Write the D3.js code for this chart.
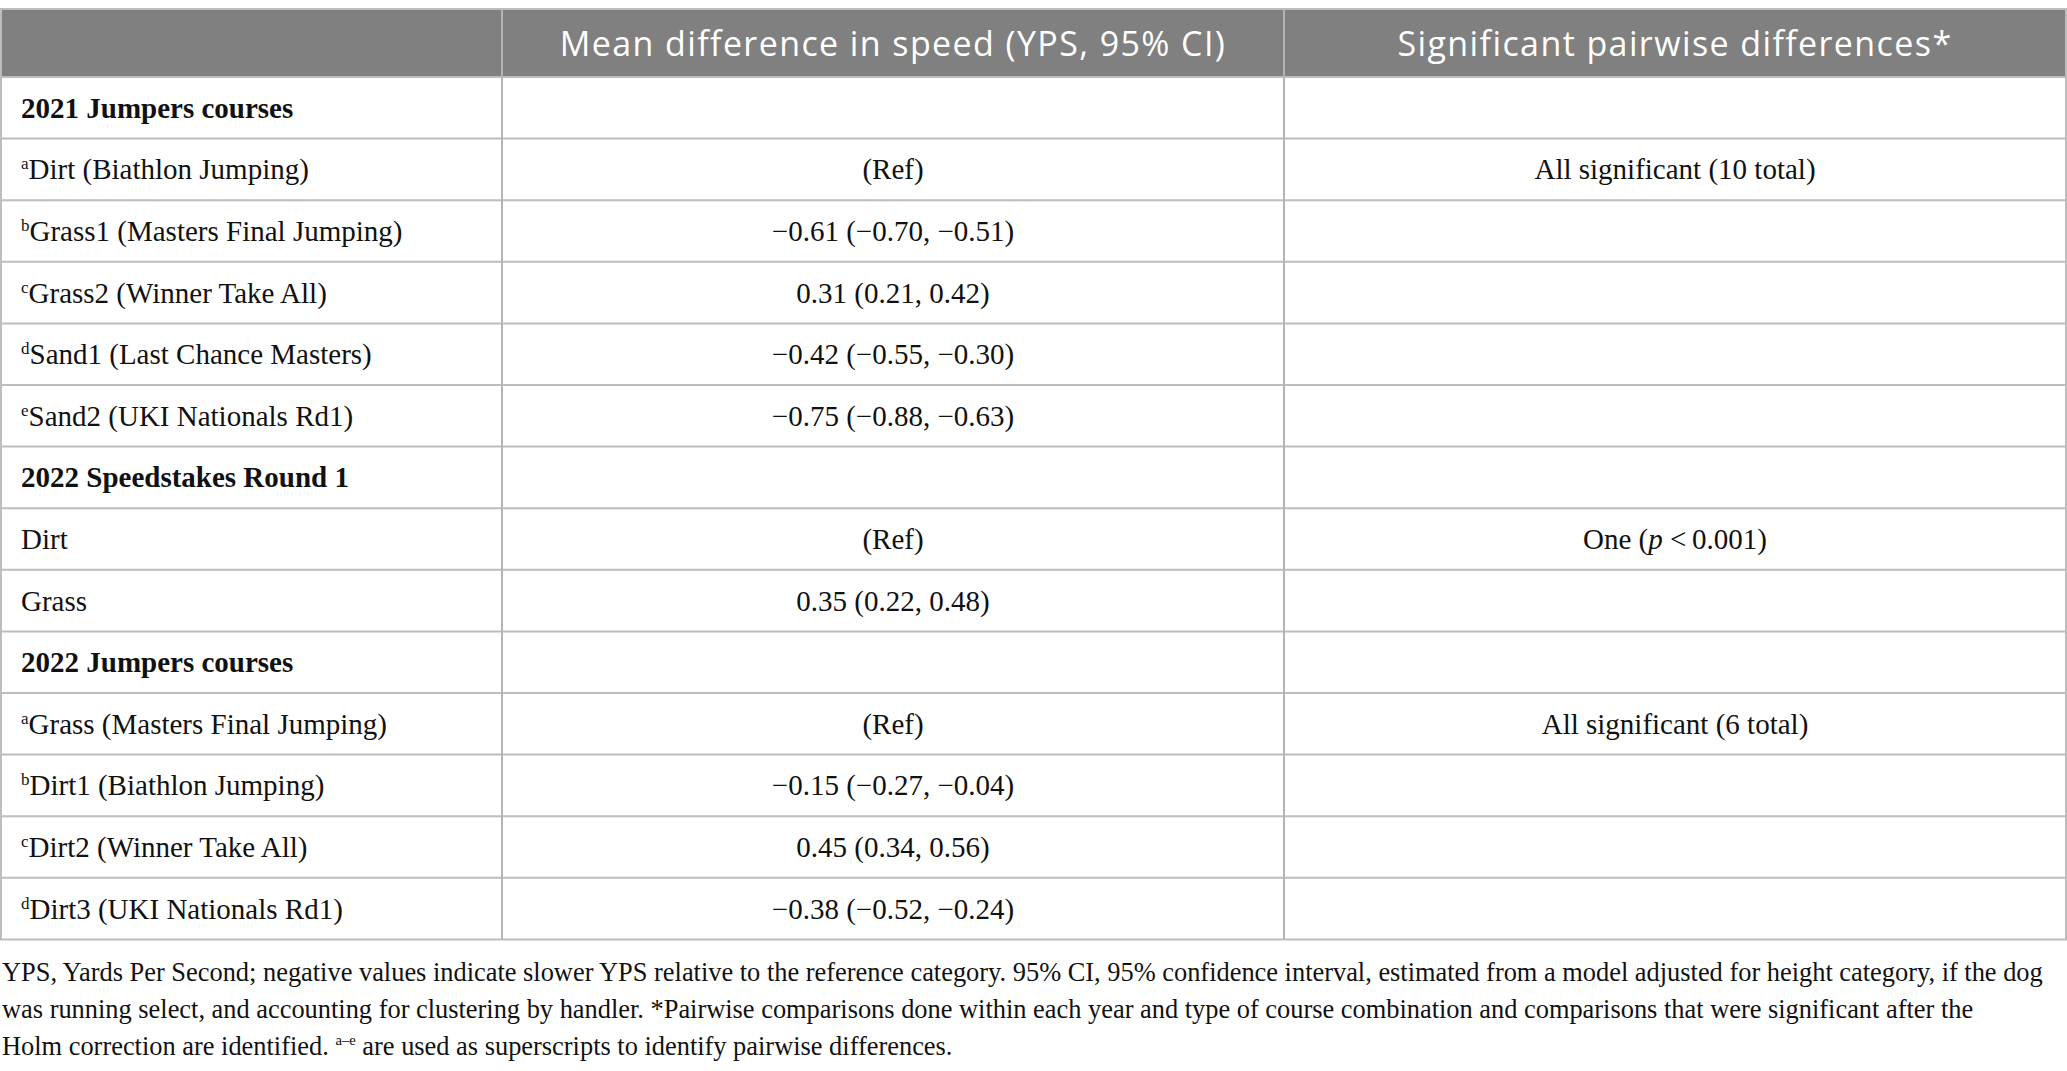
<!DOCTYPE html>
<html>
<head>
<meta charset="utf-8">
<script src="https://cdn.jsdelivr.net/npm/d3@7"></script>
<style>
  html, body { margin: 0; padding: 0; background: #fff; }
</style>
</head>
<body>
<div id="chart"></div>
<script>
"use strict";
var width = 2067;
var height = 1071;

// table content
var columnHeaders = ["", "Mean difference in speed (YPS, 95% CI)", "Significant pairwise differences*"];
var rowSup = ["", "a", "b", "c", "d", "e", "", "", "", "", "a", "b", "c", "d"];
var rowLabels = [
    "2021 Jumpers courses",
    "Dirt (Biathlon Jumping)",
    "Grass1 (Masters Final Jumping)",
    "Grass2 (Winner Take All)",
    "Sand1 (Last Chance Masters)",
    "Sand2 (UKI Nationals Rd1)",
    "2022 Speedstakes Round 1",
    "Dirt",
    "Grass",
    "2022 Jumpers courses",
    "Grass (Masters Final Jumping)",
    "Dirt1 (Biathlon Jumping)",
    "Dirt2 (Winner Take All)",
    "Dirt3 (UKI Nationals Rd1)"
];
var rowIsGroup = [true, false, false, false, false, false, true, false, false, true, false, false, false, false];
var meanDiff = [
    "", "(Ref)", "\u22120.61 (\u22120.70, \u22120.51)", "0.31 (0.21, 0.42)",
    "\u22120.42 (\u22120.55, \u22120.30)", "\u22120.75 (\u22120.88, \u22120.63)",
    "", "(Ref)", "0.35 (0.22, 0.48)",
    "", "(Ref)", "\u22120.15 (\u22120.27, \u22120.04)", "0.45 (0.34, 0.56)",
    "\u22120.38 (\u22120.52, \u22120.24)"
];
// _x_ marks italic
var pairwise = [
    "", "All significant (10 total)", "", "", "", "",
    "", "One (_p_ <\u20090.001)", "",
    "", "All significant (6 total)", "", "", ""
];
var footnotes = [
    "YPS, Yards Per Second; negative values indicate slower YPS relative to the reference category. 95% CI, 95% confidence interval, estimated from a model adjusted for height category, if the dog",
    "was running select, and accounting for clustering by handler. *Pairwise comparisons done within each year and type of course combination and comparisons that were significant after the",
    "Holm correction are identified. ^a\u2013e^ are used as superscripts to identify pairwise differences."
];

var serif = "'Liberation Serif', 'Times New Roman', serif";
var sans = "'Open Sans', 'Noto Sans', sans-serif";
var gridColor = '#bdbdbd';
var headerFill = '#7f807f';

var tableTop = 9, headerBottom = 77, tableBottom = 939.4;
var colEdges = [1, 502, 1284, 2066];

var y = d3.scaleBand()
    .domain(d3.range(rowLabels.length))
    .range([headerBottom, tableBottom]);

var svg = d3.select('#chart')
    .append('svg')
    .attr('width', width)
    .attr('height', height)
    .style('display', 'block');

// header band
svg.append('rect')
    .attr('x', colEdges[0])
    .attr('y', tableTop)
    .attr('width', colEdges[3] - colEdges[0])
    .attr('height', headerBottom - tableTop)
    .attr('fill', headerFill);

svg.selectAll('text.head')
    .data(columnHeaders)
    .enter()
    .append('text')
    .attr('class', 'head')
    .attr('x', function (d, i) { return (colEdges[i] + colEdges[i + 1]) / 2; })
    .attr('y', headerBottom - 21)
    .attr('text-anchor', 'middle')
    .style('font-family', sans)
    .style('font-size', '34px')
    .style('letter-spacing', '1.4px')
    .attr('fill', 'white')
    .text(function (d) { return d; });

// horizontal grid
var hLines = [tableTop, headerBottom].concat(y.domain().map(function (i) { return y(i) + y.bandwidth(); }));
svg.selectAll('line.h')
    .data(hLines)
    .enter()
    .append('line')
    .attr('class', 'h')
    .attr('x1', colEdges[0] - 1)
    .attr('x2', colEdges[3] + 1)
    .attr('y1', function (d) { return d; })
    .attr('y2', function (d) { return d; })
    .attr('stroke', gridColor)
    .attr('stroke-width', 2);

// vertical grid
svg.selectAll('line.v')
    .data(colEdges)
    .enter()
    .append('line')
    .attr('class', 'v')
    .attr('x1', function (d) { return d; })
    .attr('x2', function (d) { return d; })
    .attr('y1', tableTop)
    .attr('y2', tableBottom)
    .attr('stroke', function (d, i) { return (i === 1 || i === 2) ? '#b4b4b4' : gridColor; })
    .attr('stroke-width', 2);

// writes "plain ^sup^ plain _italic_" into a text element
function richText(sel, str, supSize) {
    var parts = str.split(/(\^[^^]*\^|_[^_]*_)/);
    var back = 0;
    parts.forEach(function (p) {
        if (p === '') return;
        var t;
        if (p[0] === '^') {
            t = sel.append('tspan')
                .attr('dy', -10 + back)
                .style('font-size', supSize)
                .text(p.slice(1, -1));
            back = 10;
            return;
        }
        if (p[0] === '_') {
            t = sel.append('tspan').style('font-style', 'italic').text(p.slice(1, -1));
        } else {
            t = sel.append('tspan').text(p);
        }
        if (back) { t.attr('dy', back); back = 0; }
    });
}

var rows = svg.selectAll('g.row')
    .data(rowLabels)
    .enter()
    .append('g')
    .attr('class', 'row')
    .attr('transform', function (d, i) { return 'translate(0,' + (y(i) + y.bandwidth() / 2 + 10) + ')'; });

rows.append('text')
    .attr('x', 21)
    .style('font-family', serif)
    .style('font-size', '29px')
    .style('font-weight', function (d, i) { return rowIsGroup[i] ? 'bold' : 'normal'; })
    .attr('fill', '#111')
    .each(function (d, i) {
        var s = rowSup[i] ? '^' + rowSup[i] + '^' + d : d;
        richText(d3.select(this), s, '17px');
    });

rows.append('text')
    .attr('x', (colEdges[1] + colEdges[2]) / 2)
    .attr('text-anchor', 'middle')
    .style('font-family', serif)
    .style('font-size', '29px')
    .attr('fill', '#111')
    .text(function (d, i) { return meanDiff[i]; });

rows.append('text')
    .attr('x', (colEdges[2] + colEdges[3]) / 2)
    .attr('text-anchor', 'middle')
    .style('font-family', serif)
    .style('font-size', '29px')
    .attr('fill', '#111')
    .each(function (d, i) { richText(d3.select(this), pairwise[i], '17px'); });

// footnote
var foot = svg.append('g');
foot.selectAll('text')
    .data(footnotes)
    .enter()
    .append('text')
    .attr('x', 0)
    .attr('y', function (d, i) { return 981 + i * 37; })
    .style('font-family', serif)
    .style('font-size', '27px')
    .attr('fill', '#111')
    .each(function (d) { richText(d3.select(this), d, '15px'); });

// squeeze the footnote to the width of the first line in the original
var w1 = foot.select('text').node().getComputedTextLength();
var k = 2042 / w1;
foot.attr('transform', 'translate(2,0) scale(' + k + ',1)');
</script>
</body>
</html>
